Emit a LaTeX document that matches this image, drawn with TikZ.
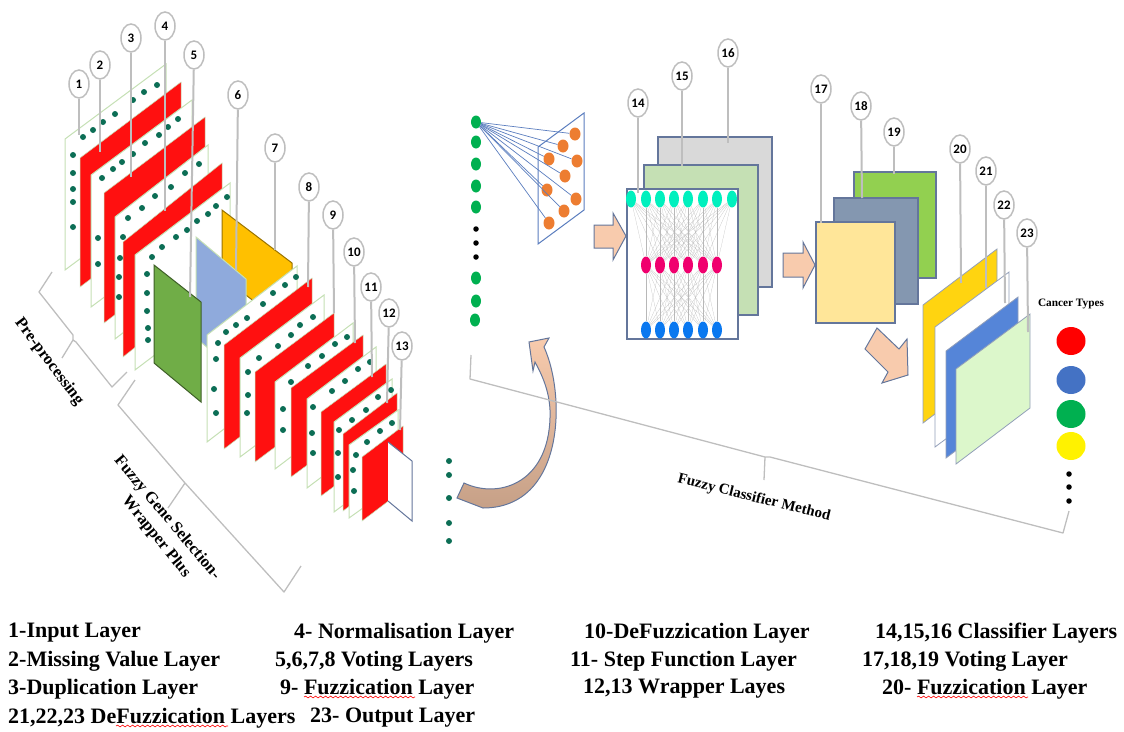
\documentclass[tikz,border=0pt]{standalone}
\usepackage{fontspec}
\usepackage{xcolor}
\usepackage{tikz}
\usetikzlibrary{arrows.meta,positioning,calc,shapes.geometric,decorations.pathmorphing}
\setmainfont{Liberation Serif}
\newfontfamily\numfont{Carlito}
\definecolor{fgRed}{RGB}{255,16,16}
\definecolor{fgEdge}{RGB}{197,224,180}
\definecolor{fgDot}{RGB}{12,110,85}
\definecolor{fgLine}{RGB}{190,190,190}
\definecolor{fgSlate}{RGB}{100,118,155}
\definecolor{fgPeach}{RGB}{248,203,173}
\definecolor{fgTan}{RGB}{198,160,135}
\definecolor{fgFan}{RGB}{90,125,190}
\definecolor{fgOrange}{RGB}{237,125,49}
\definecolor{fgGreen}{RGB}{0,176,80}
\definecolor{fgAmber}{RGB}{255,192,0}
\definecolor{fgSky}{RGB}{143,170,220}
\definecolor{fgLeaf}{RGB}{112,173,71}
\definecolor{fgTeal}{RGB}{0,240,190}
\definecolor{fgPink}{RGB}{240,0,110}
\definecolor{fgAzure}{RGB}{10,120,240}
\definecolor{fgSage}{RGB}{197,224,180}
\definecolor{fgLime}{RGB}{146,208,80}
\definecolor{fgSteel}{RGB}{132,151,176}
\definecolor{fgCream}{RGB}{255,230,153}
\definecolor{fgGold}{RGB}{255,212,16}
\definecolor{fgCobalt}{RGB}{85,133,216}
\definecolor{fgMint}{RGB}{220,247,203}
\definecolor{fgRoyal}{RGB}{68,114,196}
\begin{document}
\begin{tikzpicture}[
  x=1pt, y=-1pt,
  wp/.style={draw=fgEdge, fill=white, line width=1pt},
  rp/.style={draw=fgEdge, fill=fgRed, line width=0.5pt},
  cb/.style={ellipse, draw=fgLine, fill=white, line width=1.5pt, inner sep=0pt, minimum width=20pt, minimum height=28pt, font=\numfont\bfseries\fontsize{13}{13}\selectfont},
  ld/.style={draw=fgLine, line width=2pt},
  br/.style={draw=fgLine, line width=1.3pt, line join=round},
  blk/.style={draw=fgSlate, fill=fgPeach, line width=1pt},
  sq/.style={draw=fgSlate, line width=1.2pt},
  sd/.style={ellipse, fill=fgGreen, inner sep=0pt, minimum width=10pt, minimum height=13pt},
  od/.style={ellipse, fill=fgOrange, inner sep=0pt, minimum width=11pt, minimum height=13pt},
  nn/.style={ellipse, inner sep=0pt, minimum width=10pt, minimum height=17pt},
  ct/.style={ellipse, inner sep=0pt, minimum width=29pt, minimum height=28pt},
  kd/.style={circle, fill=black, inner sep=0pt, minimum width=5.5pt},
  wire/.style={draw=black!28, line width=0.15pt},
  fan/.style={draw=fgFan, line width=0.7pt},
  pl/.style={draw=fgSlate!70, line width=0.8pt},
  lg/.style={anchor=west, inner sep=0pt, font=\bfseries\fontsize{22}{24}\selectfont},
  lb/.style={inner sep=0pt, font=\bfseries\fontsize{15}{17}\selectfont},
  lc/.style={inner sep=0pt, font=\bfseries\fontsize{16.5}{19}\selectfont},
  wavy/.style={draw=red, line width=0.6pt, decorate, decoration={snake, amplitude=0.9pt, segment length=5pt}}
]
\useasboundingbox (0,0) rectangle (1124,731);
\foreach \xa/\ya/\xb/\yb/\yc/\st in {65/139/166/64/270/wp, 80/158/181/82/287/rp, 91/175/192/100/307/wp, 104/193/205/117/323/rp, 115/217/208/145/339/wp, 123/242/222/163/357/rp, 135/255/230/183/370/wp}
  \draw[\st] (\xa,\ya) -- (\xb,\yb) -- (\xb,\yb-\ya+\yc) -- (\xa,\yc) -- cycle;
\draw[draw=fgAmber!60!black, fill=fgAmber, line width=1pt] (222,210) -- (292,263) -- (292,330) -- (222,277) -- cycle;
\draw[draw=fgEdge, fill=fgSky, line width=1pt] (196,237) -- (246,279) -- (246,380) -- (196,338) -- cycle;
\draw[draw=fgLeaf!55!black, fill=fgLeaf, line width=1pt] (154,265) -- (201,302) -- (201,402) -- (154,363) -- cycle;
\foreach \xa/\ya/\xb/\yb/\yc/\st in {207/335/297/266/442/wp, 224/345/312/278/449/rp, 240/358/324/295/457/wp, 255/372/334/313/462/rp, 275/382/353/323/469/wp, 291/388/363/335/477/rp, 307/399/376/347/488/wp, 321/412/386/364/496/rp, 334/422/392/379/512/wp, 343/434/397/393/511/rp, 349/445/398/410/518/wp, 362/457/403/426/521/rp}
  \draw[\st] (\xa,\ya) -- (\xb,\yb) -- (\xb,\yb-\ya+\yc) -- (\xa,\yc) -- cycle;
\fill[white] (388,442) -- (412,461) -- (412,521) -- (388,501) -- cycle;
\draw[fgSlate, line width=1pt] (388,442) -- (412,461) -- (412,521) -- (388,501);
\foreach \x/\y in {83/137, 93/130, 103/122, 115/114, 133/100, 144/92, 157/85, 73/155, 73/173, 73/189, 73/202, 73/227,
  102/178, 113/169, 122/162, 133/154, 145/143, 159/135, 168/127, 178/119, 98/238, 98/264,
  128/218, 142/208, 155/196, 171/187, 185/173, 199/164, 123/237, 120/258, 119/277, 119/297,
  152/257, 162/247, 176/237, 187/230, 197/221, 208/214, 216/206, 227/197, 147/274, 147/293, 147/311, 148/328, 148/340,
  218/343, 226/332, 236/325, 247/318, 263/304, 273/293, 285/285, 296/277, 216/359, 214/389, 216/413,
  259/358, 278/346, 291/335, 300/325, 313/317, 248/372, 248/395, 247/413,
  291/382, 308/366, 322/356, 335/344, 347/337, 283/409, 283/430,
  313/407, 332/391, 345/381, 358/369, 370/362, 312/433, 313/453,
  339/430, 352/420, 366/410, 378/397, 391/390, 338/453, 338/477,
  356/455, 367/442, 380/431, 392/423, 353/470, 354/491,
  449/461, 449/475, 449/498, 449/523, 449/541}
  \fill[fgDot] (\x,\y) circle (3);
\foreach \i/\x/\y in {1/476/122, 2/476/142, 3/476/164, 4/476/186, 5/476/207, 6/476/278, 7/476/301, 8/475/320}
  \node[sd] (g\i) at (\x,\y) {};
\foreach \i/\y in {1/229, 2/243, 3/257}
  \node[kd] (k\i) at (476,\y) {};
\draw[fgFan, line width=1pt] (538,147) -- (584,113) -- (584,210) -- (538,244) -- cycle;
\foreach \i/\x/\y in {1/575/134, 2/563/146, 3/549/159, 4/577/161, 5/565/176, 6/547/190, 7/576/199, 8/564/211, 9/549/223} {
  \node[od] (o\i) at (\x,\y) {};
  \draw[fan] (g1) -- (o\i);
}
\draw[blk] (594,225) -- (613,225) -- (613,213) -- (626,236) -- (613,260) -- (613,248) -- (594,248) -- cycle;
\draw[sq, fill=black!15] (658,137) rectangle (772,287);
\draw[sq, fill=fgSage] (644,165) rectangle (758,315);
\draw[sq, fill=white] (627,189) rectangle (738,339);
\foreach \i/\x in {1/631, 2/646, 3/660, 4/674, 5/688, 6/703, 7/717, 8/732}
  \node[nn, fill=fgTeal] (t\i) at (\x,199) {};
\foreach \i/\x in {1/646, 2/660, 3/674, 4/688, 5/703, 6/717} {
  \node[nn, fill=fgPink] (m\i) at (\x,265) {};
  \node[nn, fill=fgAzure] (b\i) at (\x,330) {};
}
\foreach \a in {1,...,8} \foreach \b in {1,...,6} \draw[wire] (t\a) -- (m\b);
\foreach \a in {1,...,6} \foreach \b in {1,...,6} \draw[wire] (m\a) -- (b\b);
\draw[blk] (783,253) -- (803,253) -- (803,242) -- (815,265) -- (803,288) -- (803,277) -- (783,277) -- cycle;
\draw[sq, fill=fgLime] (854,172) rectangle (936,278);
\draw[sq, fill=fgSteel] (834,198) rectangle (918,304);
\draw[sq, fill=fgCream] (816,222) rectangle (895,323);
\draw[blk] (877,328) -- (865,349) -- (888,372) -- (882,383) -- (908,375) -- (907,339) -- (899,349) -- cycle;
\draw[pl, fill=fgGold] (923,305) -- (997,249) -- (997,367) -- (923,423) -- cycle;
\draw[pl, fill=white] (935,327) -- (1009,272) -- (1009,392) -- (935,447) -- cycle;
\draw[pl, fill=fgCobalt] (946,351) -- (1018,297) -- (1018,404) -- (946,458) -- cycle;
\draw[pl, fill=fgMint] (956,369) -- (1030,314) -- (1030,408) -- (956,464) -- cycle;
\node[inner sep=0pt, font=\bfseries\fontsize{11.3}{12}\selectfont] (ctype) at (1071,304) {Cancer Types};
\foreach \i/\y/\c in {1/341/red, 2/380/fgRoyal, 3/414/fgGreen, 4/446/yellow}
  \node[ct, fill=\c] (ct\i) at (1071,\y) {};
\foreach \i/\y in {1/474, 2/487, 3/501}
  \node[kd] (kc\i) at (1069,\y) {};
\draw[draw=fgSlate, line width=1pt, top color=fgPeach, middle color=fgPeach, bottom color=fgTan] (529,342) -- (549,338) -- (544,347) .. controls (566,395) and (565,508) .. (483,508) -- (457,498) -- (464,483) .. controls (500,500) and (552,482) .. (550,410) .. controls (549,390) and (542,375) .. (535,362) -- (533,371) -- cycle;
\draw[br] (52,272) -- (39,292) -- (73,335) -- (73,340) -- (62,358) (73,340) -- (76,342) -- (112,387) -- (127,372);
\draw[br] (135,380) -- (118,405) -- (185,483) -- (168,508) (185,483) -- (284,592) -- (301,566);
\draw[br] (471,355) -- (470,379) -- (765,457) -- (764,480) (765,457) -- (770,457) -- (1063,533) -- (1069,511);
\node[lc, rotate=-53] (pre) at (49,362) {Pre-processing};
\node[lc, rotate=-50] (fgs) at (167,518) {Fuzzy Gene Selection-};
\node[lc, rotate=-51] (wpl) at (156,537) {Wrapper Plus};
\node[lb, rotate=-14] (fcm) at (754,498) {Fuzzy Classifier Method};
\foreach \i/\x/\y/\ex/\ey in {1/79/84/79/135, 2/100/65/100/152, 3/131/38/131/177, 4/165/26/165/211, 5/194/55/190/297, 6/238/95/236/270, 7/275/148/275/250, 8/309/187/308/287, 9/333/215/334/313, 10/354/252/355/343, 11/371/287/372/377, 12/389/313/387/403, 13/402/346/400/430, 14/638/103/638/193, 15/682/76/682/166, 16/728/53/728/143, 17/821/89/821/223, 18/861/106/862/198, 19/894/132/894/174, 20/960/149/961/283, 21/986/171/986/288, 22/1004/205/1005/303, 23/1027/233/1028/332} {
  \coordinate (e\i) at (\ex,\ey);
  \node[cb] (c\i) at (\x,\y) {\i};
  \draw[ld] (c\i) -- (e\i);
}
\foreach \x/\y/\t [count=\k] in {8/633/{1-Input Layer}, 294/633/{4- Normalisation Layer}, 584/633/{10-DeFuzzication Layer}, 875/633/{14,15,16 Classifier Layers},
  8/661/{2-Missing Value Layer}, 275/661/{5,6,7,8 Voting Layers}, 570/661/{11- Step Function Layer}, 862/661/{17,18,19 Voting Layer},
  8/689/{3-Duplication Layer}, 280/689/{9- Fuzzication Layer}, 583/689/{12,13 Wrapper Layes}, 882/689/{20- Fuzzication Layer},
  8/718/{21,22,23 DeFuzzication Layers}, 310/718/{23- Output Layer}}
  \node[lg] (l\k) at (\x,\y) {\t};
\draw[wavy] (304,697) -- (415,697);
\draw[wavy] (917,697) -- (1028,697);
\draw[wavy] (116,726) -- (228,726);
\end{tikzpicture}
\end{document}
